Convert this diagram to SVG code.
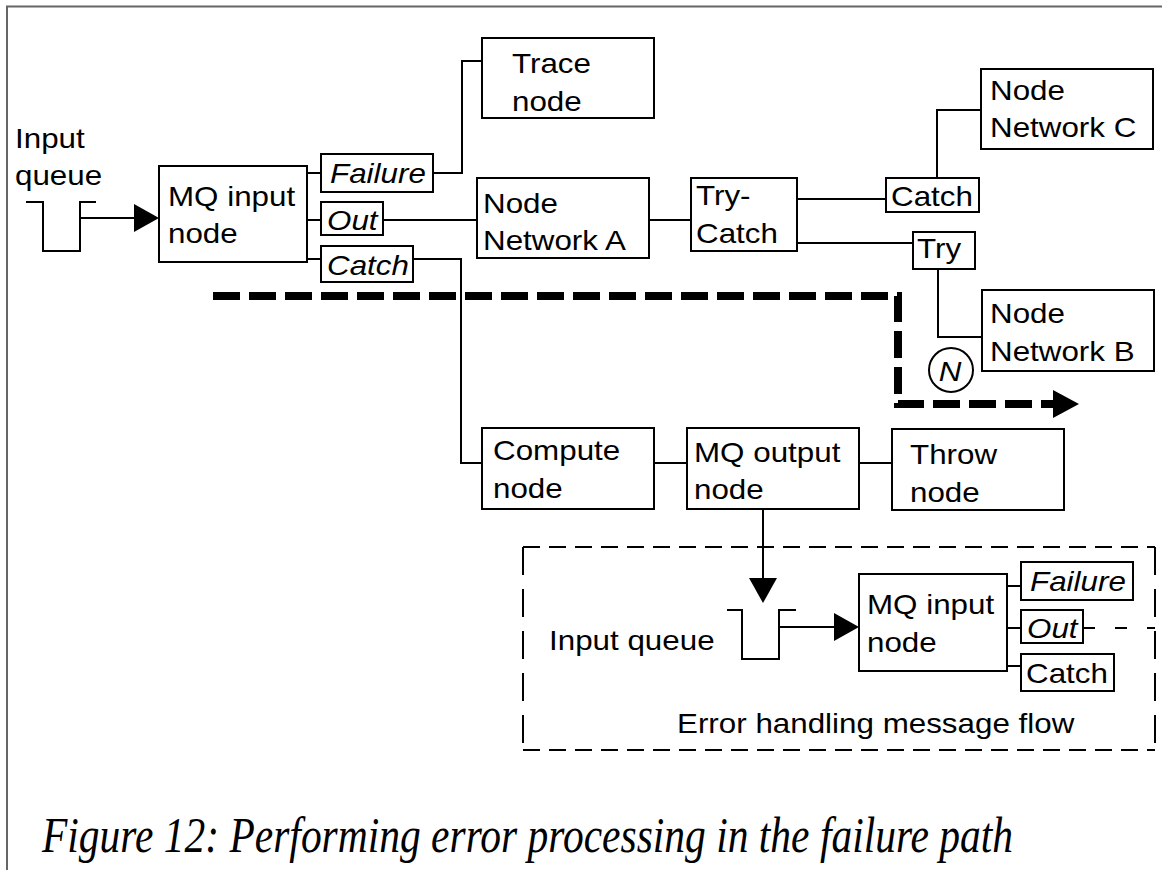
<svg xmlns="http://www.w3.org/2000/svg" width="1162" height="870" viewBox="0 0 1162 870">
  <defs>
    <style>
      .box { fill: #fff; stroke: #000; stroke-width: 2; }
      .ln { fill: none; stroke: #000; stroke-width: 2; }
      .t { font-family: "Liberation Sans", Arial, sans-serif; font-size: 28px; fill: #000; }
      .ti { font-family: "Liberation Sans", Arial, sans-serif; font-size: 28px; font-style: italic; fill: #000; }
      .frame { fill: none; stroke: #666; stroke-width: 2; }
      .cap { font-family: "Liberation Serif", "Times New Roman", serif; font-size: 50px; font-style: italic; fill: #000; }
    </style>
    <!-- filled arrowheads, drawn from the end of the line outwards -->
    <marker id="ah" markerUnits="userSpaceOnUse" markerWidth="26" markerHeight="30" refX="0" refY="14" orient="auto" overflow="visible">
      <path d="M0,0 L25,14 L0,28 Z" fill="#000"/>
    </marker>
    <marker id="ahBig" markerUnits="userSpaceOnUse" markerWidth="28" markerHeight="30" refX="0" refY="14" orient="auto" overflow="visible">
      <path d="M0,0 L26,14 L0,28 Z" fill="#000"/>
    </marker>
  </defs>

  <rect width="1162" height="870" fill="#fff"/>
  <path class="frame" d="M7,870 V6.5 H1162"/>

  <!-- connectors -->
  <g id="connectors">
    <polyline class="ln" points="26,202 43,202 43,251 80,251 80,202 96,202"/>
    <line class="ln" x1="80" y1="218" x2="134" y2="218" marker-end="url(#ah)"/>
    <line class="ln" x1="307" y1="173" x2="321" y2="173"/>
    <line class="ln" x1="307" y1="220" x2="321" y2="220"/>
    <line class="ln" x1="307" y1="259" x2="321" y2="259"/>
    <polyline class="ln" points="433,173 462,173 462,61 482,61"/>
    <line class="ln" x1="383" y1="220" x2="477" y2="220"/>
    <polyline class="ln" points="413,259 461,259 461,463 482,463"/>
    <line class="ln" x1="649" y1="220" x2="691" y2="220"/>
    <line class="ln" x1="797" y1="199" x2="886" y2="199"/>
    <line class="ln" x1="797" y1="243" x2="913" y2="243"/>
    <polyline class="ln" points="937,178 937,110 981,110"/>
    <polyline class="ln" points="938,269 938,337 982,337"/>
    <line class="ln" x1="654" y1="463" x2="687" y2="463"/>
    <line class="ln" x1="859" y1="463" x2="892" y2="463"/>
    <line class="ln" x1="763" y1="509" x2="763" y2="578" marker-end="url(#ah)"/>
    <polyline class="ln" points="727,610 742,610 742,659 779,659 779,610 796,610"/>
    <line class="ln" x1="779" y1="627" x2="834" y2="627" marker-end="url(#ah)"/>
    <line class="ln" x1="1007" y1="586" x2="1021" y2="586"/>
    <line class="ln" x1="1007" y1="628" x2="1021" y2="628"/>
    <line class="ln" x1="1007" y1="666" x2="1021" y2="666"/>
    <line class="ln" x1="1083" y1="628" x2="1155" y2="628" stroke-dasharray="12 20"/>
    <!-- failure path -->
    <path d="M213,296 H898 V404 H1053" fill="none" stroke="#000" stroke-width="8" stroke-dasharray="27 9" marker-end="url(#ahBig)"/>
  </g>

  <!-- error handling flow boundary -->
  <g id="error-flow-frame" fill="none" stroke="#000" stroke-width="2">
    <line x1="523" y1="547" x2="1155" y2="547" stroke-dasharray="17 9"/>
    <line x1="523" y1="750" x2="1155" y2="750" stroke-dasharray="17 9"/>
    <line x1="523" y1="547" x2="523" y2="750" stroke-dasharray="28 14"/>
    <line x1="1155" y1="547" x2="1155" y2="750" stroke-dasharray="28 14"/>
  </g>

  <g id="input-queue">
    <text class="t" transform="translate(15,148) scale(1.12,1)">Input<tspan x="0" dy="37">queue</tspan></text>
  </g>

  <g id="mq-input">
    <rect class="box" x="159" y="166" width="148" height="96"/>
    <text class="t" transform="translate(168,206) scale(1.12,1)">MQ input<tspan x="0" dy="37">node</tspan></text>
  </g>
  <g id="term-failure">
    <rect class="box" x="321" y="154" width="112" height="38"/>
    <text class="ti" transform="translate(330,183) scale(1.12,1)">Failure</text>
  </g>
  <g id="term-out">
    <rect class="box" x="321" y="202" width="62" height="33"/>
    <text class="ti" transform="translate(327,230) scale(1.12,1)">Out</text>
  </g>
  <g id="term-catch">
    <rect class="box" x="321" y="246" width="92" height="36"/>
    <text class="ti" transform="translate(327,275) scale(1.12,1)">Catch</text>
  </g>

  <g id="trace">
    <rect class="box" x="482" y="38" width="172" height="80"/>
    <text class="t" transform="translate(512,73) scale(1.12,1)">Trace<tspan x="0" dy="38">node</tspan></text>
  </g>
  <g id="network-a">
    <rect class="box" x="477" y="178" width="172" height="80"/>
    <text class="t" transform="translate(483,213) scale(1.12,1)">Node<tspan x="0" dy="37">Network A</tspan></text>
  </g>
  <g id="try-catch">
    <rect class="box" x="691" y="178" width="106" height="73"/>
    <text class="t" transform="translate(696,205) scale(1.12,1)">Try-<tspan x="0" dy="38">Catch</tspan></text>
  </g>
  <g id="tc-catch">
    <rect class="box" x="886" y="178" width="93" height="34"/>
    <text class="t" transform="translate(891,206) scale(1.12,1)">Catch</text>
  </g>
  <g id="tc-try">
    <rect class="box" x="913" y="232" width="62" height="37"/>
    <text class="t" transform="translate(917,258) scale(1.12,1)">Try</text>
  </g>
  <g id="network-c">
    <rect class="box" x="981" y="69" width="172" height="80"/>
    <text class="t" transform="translate(990,100) scale(1.12,1)">Node<tspan x="0" dy="37">Network C</tspan></text>
  </g>
  <g id="network-b">
    <rect class="box" x="982" y="290" width="172" height="81"/>
    <text class="t" transform="translate(990,323) scale(1.12,1)">Node<tspan x="0" dy="38">Network B</tspan></text>
  </g>
  <g id="marker-n">
    <circle cx="951" cy="370" r="22" fill="#fff" stroke="#000" stroke-width="2"/>
    <text class="ti" text-anchor="middle" transform="translate(950,381) scale(1.12,1)">N</text>
  </g>

  <g id="compute">
    <rect class="box" x="482" y="428" width="172" height="81"/>
    <text class="t" transform="translate(493,460) scale(1.12,1)">Compute<tspan x="0" dy="38">node</tspan></text>
  </g>
  <g id="mq-output">
    <rect class="box" x="687" y="428" width="172" height="81"/>
    <text class="t" transform="translate(694,462) scale(1.12,1)">MQ output<tspan x="0" dy="37">node</tspan></text>
  </g>
  <g id="throw">
    <rect class="box" x="892" y="429" width="172" height="81"/>
    <text class="t" transform="translate(910,464) scale(1.12,1)">Throw<tspan x="0" dy="38">node</tspan></text>
  </g>

  <g id="input-queue-2">
    <text class="t" transform="translate(549,650) scale(1.12,1)">Input queue</text>
  </g>
  <g id="mq-input-2">
    <rect class="box" x="859" y="574" width="148" height="97"/>
    <text class="t" transform="translate(867,614) scale(1.12,1)">MQ input<tspan x="0" dy="38">node</tspan></text>
  </g>
  <g id="term-failure-2">
    <rect class="box" x="1021" y="562" width="112" height="38"/>
    <text class="ti" transform="translate(1030,591) scale(1.12,1)">Failure</text>
  </g>
  <g id="term-out-2">
    <rect class="box" x="1021" y="610" width="62" height="33"/>
    <text class="ti" transform="translate(1027,638) scale(1.12,1)">Out</text>
  </g>
  <g id="term-catch-2">
    <rect class="box" x="1021" y="654" width="93" height="37"/>
    <text class="t" transform="translate(1026,683) scale(1.12,1)">Catch</text>
  </g>
  <g id="error-flow-label">
    <text class="t" transform="translate(677,733) scale(1.12,1)">Error handling message flow</text>
  </g>

  <g id="caption">
    <text class="cap" transform="translate(42,852) scale(0.83,1)">Figure 12: Performing error processing in the failure path</text>
  </g>
</svg>
